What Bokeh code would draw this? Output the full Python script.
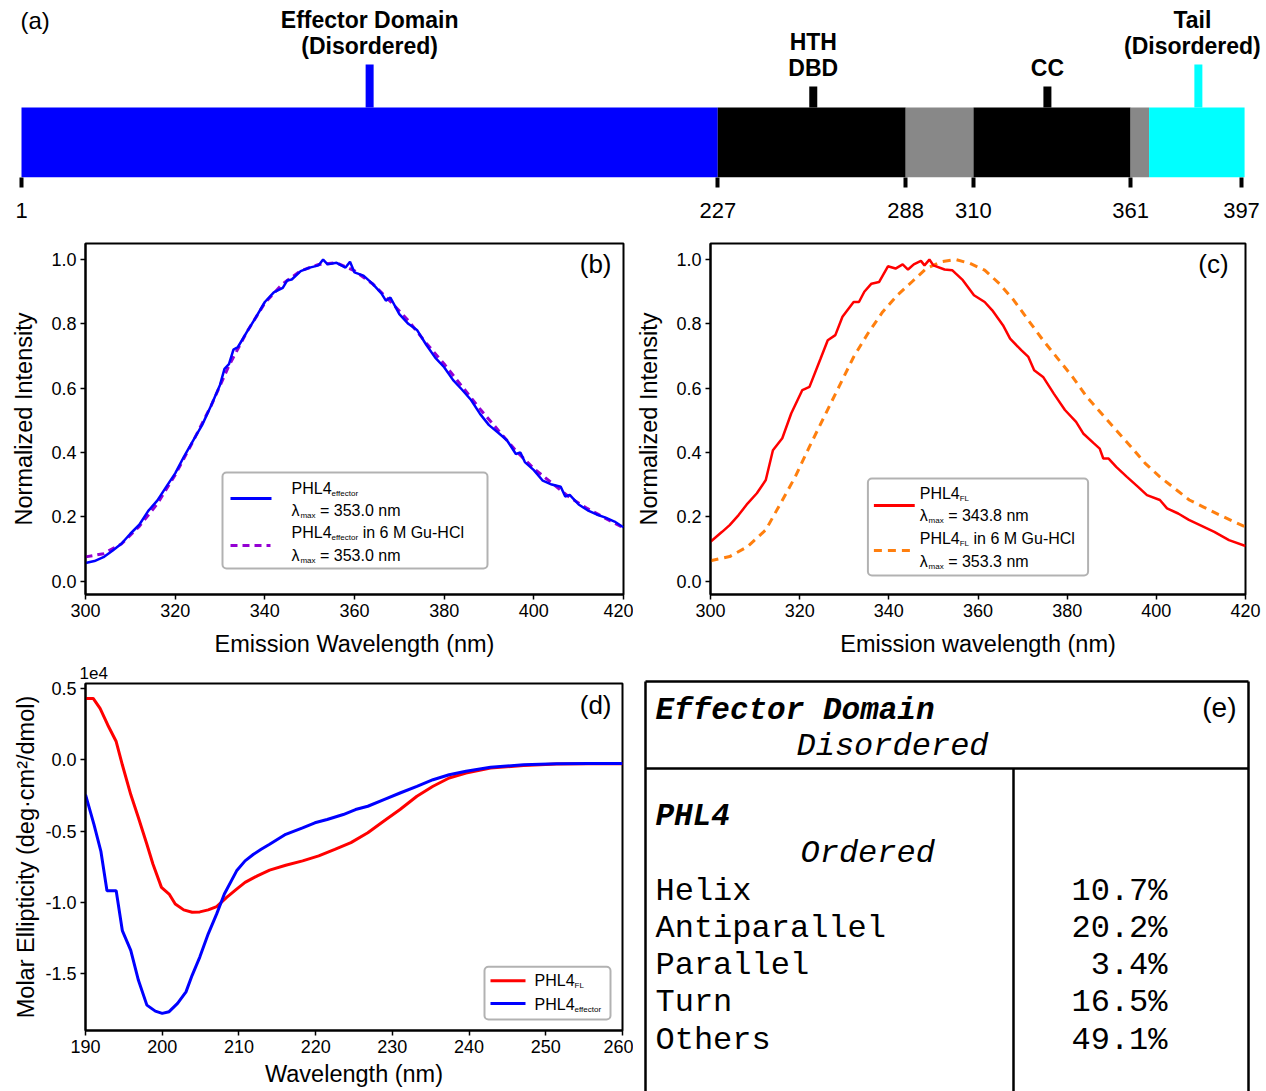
from bokeh.plotting import figure
from bokeh.layouts import column, row
from bokeh.models import (Range1d, FixedTicker, PrintfTickFormatter,
                          CustomJSTickFormatter, BoxAnnotation)
from bokeh.core.properties import value
from bokeh.embed import file_html
from bokeh.resources import INLINE

SANS = "Liberation Sans"
MONO = "Liberation Mono"

# ---------------- data ----------------
# (a) domain map of PHL4 (residues)
seg_start = [1, 227, 288, 310, 361, 367]
seg_end = [227, 288, 310, 361, 367, 398]
seg_color = ["#0000FF", "#000000", "#888888", "#000000", "#888888", "#00FFFF"]
map_ticks = [1, 227, 288, 310, 361, 397]
stub_pos = [114, 258, 334, 383]
stub_rise = [0.614, 0.3, 0.3, 0.614]
stub_color = ["#0000FF", "#000000", "#000000", "#00FFFF"]
domain_lines = [["Effector Domain", "(Disordered)"], ["HTH", "DBD"], ["CC"],
                ["Tail", "(Disordered)"]]

# (b) intrinsic fluorescence, effector domain
b_wl_eff = [300, 302, 304, 306, 308, 310, 312, 314, 316, 318,
            320, 322, 324, 326, 328, 330, 331, 332, 333, 334,
            336, 338, 340, 342, 344, 345, 346, 348, 350, 352,
            353, 354, 356, 358, 359, 360, 362, 364, 366, 367,
            368, 370, 372, 374, 376, 378, 380, 382, 384, 386,
            388, 390, 392, 394, 396, 397, 398, 400, 402, 404,
            406, 407, 408, 410, 412, 414, 416, 418, 420]
b_int_eff = [0.056, 0.062, 0.074, 0.094, 0.116, 0.147, 0.175, 0.218, 0.250, 0.293,
             0.335, 0.388, 0.437, 0.485, 0.545, 0.610, 0.660, 0.675, 0.720, 0.728,
             0.775, 0.820, 0.868, 0.898, 0.912, 0.935, 0.938, 0.964, 0.975, 0.982,
             1.000, 0.985, 0.990, 0.975, 0.993, 0.960, 0.950, 0.925, 0.895, 0.872,
             0.882, 0.830, 0.800, 0.780, 0.735, 0.695, 0.665, 0.625, 0.595, 0.563,
             0.520, 0.485, 0.462, 0.438, 0.395, 0.400, 0.370, 0.345, 0.312, 0.300,
             0.293, 0.263, 0.268, 0.238, 0.220, 0.207, 0.197, 0.185, 0.167]
b_wl_gu = [300, 304, 308, 312, 316, 320, 324, 328, 332, 336, 340, 344, 348, 352, 356,
           360, 364, 368, 372, 376, 380, 384, 388, 392, 396, 400, 404, 408, 412, 416, 420]
b_int_gu = [0.075, 0.085, 0.115, 0.170, 0.240, 0.330, 0.435, 0.545, 0.670, 0.775,
            0.865, 0.925, 0.965, 0.985, 0.990, 0.965, 0.925, 0.870, 0.810, 0.740,
            0.675, 0.605, 0.535, 0.470, 0.405, 0.350, 0.305, 0.260, 0.225, 0.195, 0.165]

# (c) intrinsic fluorescence, full length
c_wl_fl = [300, 302.6, 304.3, 306.3, 308.3, 310.4, 312.4, 314, 316.1, 318.1,
           320.6, 322.2, 324.7, 326.3, 328, 329.6, 332.1, 333.3, 334.5, 336.1,
           337.8, 339.8, 341.5, 343.1, 344.3, 345.6, 347.2, 348, 349.1, 350,
           352.5, 354.2, 356.6, 359.1, 361.5, 363.2, 365.6, 367.2, 369.7, 371.3,
           372.6, 374.6, 377, 379.5, 382, 383.6, 386, 387.3, 388.1, 389.3,
           391, 393.4, 395.9, 397.9, 400.8, 402.4, 404.9, 407.3, 409.8, 413,
           416.3, 420]
c_int_fl = [0.122, 0.153, 0.174, 0.205, 0.241, 0.273, 0.314, 0.407, 0.444, 0.521,
            0.594, 0.604, 0.692, 0.749, 0.765, 0.822, 0.868, 0.868, 0.900, 0.925,
            0.930, 0.979, 0.972, 0.985, 0.969, 0.985, 0.996, 0.982, 1.000, 0.982,
            0.969, 0.967, 0.936, 0.889, 0.868, 0.842, 0.796, 0.754, 0.718, 0.697,
            0.656, 0.635, 0.583, 0.532, 0.495, 0.459, 0.428, 0.412, 0.381, 0.381,
            0.355, 0.324, 0.293, 0.267, 0.252, 0.226, 0.210, 0.190, 0.174, 0.153,
            0.127, 0.109]
c_wl_gu = [300, 304.3, 308.3, 312.4, 315.7, 319, 322.2, 325.5, 328.8, 332.1,
           335.3, 338.6, 341.9, 345.2, 348.4, 351.7, 355, 358.2, 361.5, 364.8,
           368, 371.3, 374.6, 377.9, 381.2, 384.4, 387.7, 391, 394.3, 397.5,
           400.8, 404.1, 407.4, 410.6, 413.9, 417.2, 420]
c_int_gu = [0.063, 0.076, 0.107, 0.159, 0.241, 0.324, 0.418, 0.511, 0.604, 0.697,
            0.770, 0.837, 0.889, 0.931, 0.972, 0.993, 1.000, 0.988, 0.967, 0.925,
            0.874, 0.811, 0.749, 0.692, 0.635, 0.573, 0.521, 0.469, 0.418, 0.366,
            0.324, 0.288, 0.252, 0.230, 0.207, 0.186, 0.168]

# (d) far-UV CD (deg cm^2 / dmol)
d_wl_fl = [190, 191, 191.9, 192.9, 194, 194.8, 195.9, 196.9, 198, 198.8,
           199.9, 200.9, 201.7, 202.8, 203.9, 204.9, 206, 207.1, 208.4, 209.7,
           210.8, 212.4, 214, 216.1, 218.3, 220.4, 222.5, 224.6, 226.8, 228.9,
           231, 233.2, 235.3, 237.4, 239.6, 242.8, 247.1, 251.4, 255.6, 260]
d_cd_fl = [4300, 4300, 3600, 2440, 1280, -350, -2440, -4070, -5930, -7330,
           -8950, -9420, -10120, -10530, -10700, -10670, -10530, -10300, -9650, -9070,
           -8600, -8140, -7740, -7400, -7090, -6740, -6280, -5810, -5120, -4300,
           -3490, -2560, -1860, -1280, -930, -580, -400, -300, -280, -280]
d_wl_eff = [190, 191.1, 192, 192.8, 194, 194.8, 195.9, 196.9, 198, 199.1,
            200, 200.9, 202, 203.1, 203.9, 204.9, 206, 207.1, 208.1, 209.7,
            210.8, 211.9, 212.9, 214, 216.1, 218.3, 219.9, 221.5, 223.6, 225.2,
            226.8, 228.9, 231, 233.2, 235.3, 237.4, 239.6, 242.8, 247.1, 251.4,
            255.6, 260]
d_cd_eff = [-2440, -4530, -6400, -9190, -9190, -11980, -13370, -15470, -17210, -17630,
            -17790, -17670, -17090, -16280, -15120, -13840, -12210, -10810, -9420, -7790,
            -7090, -6630, -6280, -5930, -5230, -4770, -4420, -4190, -3840, -3490,
            -3260, -2790, -2330, -1860, -1400, -1050, -810, -530, -350, -280,
            -260, -260]

# (e) secondary structure table
e_title = "Effector Domain"
e_title_state = "Disordered"
e_protein = "PHL4"
e_protein_state = "Ordered"
ss_labels = ["Helix", "Antiparallel", "Parallel", "Turn", "Others"]
ss_values = [10.7, 20.2, 3.4, 16.5, 49.1]

# ---------------- helpers ----------------
AW = {' ': 278, '(': 333, ')': 333, '-': 333, '.': 278, '=': 584, 'A': 667, 'C': 722,
      'F': 611, 'G': 778, 'H': 722, 'L': 556, 'M': 833, 'P': 667, 'a': 556, 'c': 500,
      'e': 556, 'f': 278, 'i': 222, 'l': 222, 'm': 833, 'n': 556, 'o': 556, 'r': 333,
      't': 278, 'u': 556, 'x': 500, 'λ': 556}


def tw(s, size):
    return sum(AW.get(ch, 556) for ch in s) * size / 1000.0


def rich(p, x, y, parts):
    off = 0.0
    for txt, size, dy in parts:
        stripped = txt.lstrip(" ")
        off += tw(txt[:len(txt) - len(stripped)], size)
        p.text(x=[x], y=[y], text=[stripped], x_offset=off, y_offset=dy,
               text_font=value(SANS), text_font_size=f"{size}px",
               text_baseline="middle", text_align="left", text_color="black")
        off += tw(stripped, size)


def conv(fx0, fw, fy0, fh, xr, yr):
    def fx(px):
        return xr[0] + (px - fx0) * (xr[1] - xr[0]) / fw

    def fy(py):
        return yr[1] - (py - fy0) * (yr[1] - yr[0]) / fh
    return fx, fy


def base_fig(w, h, xr, yr, ml, mr, mt, mb):
    p = figure(width=w, height=h, x_range=Range1d(*xr), y_range=Range1d(*yr),
               output_backend="svg", toolbar_location=None,
               min_border_left=ml, min_border_right=mr,
               min_border_top=mt, min_border_bottom=mb)
    p.frame_align = False
    p.grid.visible = False
    p.background_fill_color = "white"
    p.border_fill_color = "white"
    return p


def style_axes(p, xticks, yticks, yfmt):
    p.outline_line_color = "black"
    p.outline_line_width = 2
    p.outline_line_alpha = 1
    for ax in (p.xaxis[0], p.yaxis[0]):
        ax.axis_line_width = 2
        ax.axis_line_color = "black"
        ax.major_tick_line_width = 1.5
        ax.major_tick_line_color = "black"
        ax.major_tick_out = 5
        ax.major_tick_in = 0
        ax.minor_tick_line_color = None
        ax.major_label_text_font = SANS
        ax.major_label_text_font_size = "18px"
        ax.major_label_text_color = "black"
        ax.axis_label_text_font = SANS
        ax.axis_label_text_font_size = "23.5px"
        ax.axis_label_text_font_style = "normal"
        ax.axis_label_text_color = "black"
    p.xaxis[0].ticker = FixedTicker(ticks=xticks)
    p.yaxis[0].ticker = FixedTicker(ticks=yticks)
    p.xaxis[0].formatter = PrintfTickFormatter(format="%d")
    p.yaxis[0].formatter = yfmt
    p.xaxis[0].major_label_standoff = 4
    p.xaxis[0].axis_label_standoff = 11
    p.yaxis[0].major_label_standoff = 4
    p.yaxis[0].axis_label_standoff = 11


def panel_label(p, x, y, txt, size=26):
    p.text(x=[x], y=[y], text=[txt], text_font=value(SANS), text_font_size=f"{size}px",
           text_align="right", text_baseline="middle", text_color="black")


def legend_box(p, l, r, t, b):
    p.add_layout(BoxAnnotation(left=l, right=r, top=t, bottom=b, fill_color="white",
                               fill_alpha=1, line_color="black", line_width=2,
                               border_radius=4, level="underlay"))


# ---------------- (a) domain map ----------------
PX_PER_RES = 1220 / 396.0
a_xr = (1 - 21 / PX_PER_RES, 1 + (1266 - 21) / PX_PER_RES)
a_yr = (0, 177 / 70.0)
pa = base_fig(1266, 230, a_xr, a_yr, 0, 0, 0, 53)
pa.outline_line_color = None
pa.yaxis.visible = False
pa.quad(left=seg_start, right=seg_end, bottom=0, top=1, fill_color=seg_color,
        line_color=None)
pa.segment(x0=stub_pos, y0=[1] * len(stub_pos), x1=stub_pos,
           y1=[1 + r for r in stub_rise], line_color=stub_color, line_width=8)
label_dx = [0, 0, 0, -6]
for xs, rise, lines, ddx in zip(stub_pos, stub_rise, domain_lines, label_dx):
    n = len(lines)
    for i, ln in enumerate(lines):
        pa.text(x=[xs], y=[1 + rise], text=[ln], x_offset=ddx,
                y_offset=-19 - 26 * (n - 1 - i),
                text_font=value(SANS), text_font_style="bold", text_font_size="23px",
                text_align="center", text_baseline="middle", text_color="black")
xa = pa.xaxis[0]
xa.ticker = FixedTicker(ticks=map_ticks)
xa.axis_line_color = None
xa.major_tick_line_width = 4
xa.major_tick_line_color = "black"
xa.major_tick_out = 10
xa.major_tick_in = 0
xa.minor_tick_line_color = None
xa.major_label_text_font = SANS
xa.major_label_text_font_size = "22px"
xa.major_label_text_color = "black"
xa.major_label_standoff = 15
pa.text(x=[a_xr[0]], y=[a_yr[1]], text=["(a)"], x_offset=20, y_offset=20,
        text_font=value(SANS), text_font_size="24px", text_align="left",
        text_baseline="middle", text_color="black")

# ---------------- (b) ----------------
FL_YR = (-0.042, 1.05)
pb = base_fig(633, 430, (300, 420), FL_YR, 85, 10, 13, 66)
style_axes(pb, [300, 320, 340, 360, 380, 400, 420], [0, 0.2, 0.4, 0.6, 0.8, 1.0],
           PrintfTickFormatter(format="%.1f"))
pb.xaxis[0].axis_label = "Emission Wavelength (nm)"
pb.yaxis[0].axis_label = "Normalized Intensity"
pb.line(b_wl_gu, b_int_gu, line_color="#9400D3", line_width=3, line_dash="7 5")
pb.line(b_wl_eff, b_int_eff, line_color="#0000FF", line_width=2.5)
bx, by = conv(85, 538, 243, 351, (300, 420), FL_YR)
panel_label(pb, bx(611), by(263), "(b)")
legend_box(pb, bx(222), bx(487), by(472), by(568))
pb.line([bx(230), bx(271)], [by(498), by(498)], line_color="#0000FF", line_width=3)
pb.line([bx(230), bx(270)], [by(545), by(545)], line_color="#9400D3", line_width=3,
        line_dash="7 5")
rich(pb, bx(291), by(488), [("PHL4", 16, 0), ("effector", 8, 5)])
rich(pb, bx(291), by(510), [("λ", 16, 0), ("max", 8, 5), (" = 353.0 nm", 16, 0)])
rich(pb, bx(291), by(532), [("PHL4", 16, 0), ("effector", 8, 5), (" in 6 M Gu-HCl", 16, 0)])
rich(pb, bx(291), by(555), [("λ", 16, 0), ("max", 8, 5), (" = 353.0 nm", 16, 0)])

# ---------------- (c) ----------------
pc = base_fig(633, 430, (300, 420), FL_YR, 75, 21, 13, 66)
style_axes(pc, [300, 320, 340, 360, 380, 400, 420], [0, 0.2, 0.4, 0.6, 0.8, 1.0],
           PrintfTickFormatter(format="%.1f"))
pc.xaxis[0].axis_label = "Emission wavelength (nm)"
pc.yaxis[0].axis_label = "Normalized Intensity"
pc.line(c_wl_gu, c_int_gu, line_color="#FF7F0E", line_width=3, line_dash="8 6")
pc.line(c_wl_fl, c_int_fl, line_color="#FF0000", line_width=2.5)
cx, cy = conv(708, 537, 243, 351, (300, 420), FL_YR)
panel_label(pc, cx(1228), cy(263), "(c)")
legend_box(pc, cx(866), cx(1087), cy(478), cy(575))
pc.line([cx(872), cx(913)], [cy(505), cy(505)], line_color="#FF0000", line_width=3)
pc.line([cx(872), cx(910)], [cy(550), cy(550)], line_color="#FF7F0E", line_width=3,
        line_dash="8 6")
rich(pc, cx(918), cy(493), [("PHL4", 16, 0), ("FL", 8, 5)])
rich(pc, cx(918), cy(515), [("λ", 16, 0), ("max", 8, 5), (" = 343.8 nm", 16, 0)])
rich(pc, cx(918), cy(538), [("PHL4", 16, 0), ("FL", 8, 5), (" in 6 M Gu-HCl", 16, 0)])
rich(pc, cx(918), cy(561), [("λ", 16, 0), ("max", 8, 5), (" = 353.3 nm", 16, 0)])

# ---------------- (d) ----------------
CD_YR = (-18990, 5350)
pd_ = base_fig(633, 431, (190, 260), CD_YR, 85, 11, 22, 61)
style_axes(pd_, [190, 200, 210, 220, 230, 240, 250, 260],
           [-15000, -10000, -5000, 0, 5000],
           CustomJSTickFormatter(code="return (tick / 1e4).toFixed(1);"))
pd_.xaxis[0].axis_label = "Wavelength (nm)"
pd_.yaxis[0].axis_label = "Molar Ellipticity (deg·cm²/dmol)"
pd_.xaxis[0].axis_label_standoff = 5
pd_.yaxis[0].axis_label_standoff = 3
pd_.title.text = "1e4"
pd_.title.align = "left"
pd_.title.text_font = SANS
pd_.title.text_font_size = "17px"
pd_.title.text_font_style = "normal"
pd_.title.text_color = "black"
pd_.title.offset = -6
pd_.title.standoff = 9
pd_.line(d_wl_fl, d_cd_fl, line_color="#FF0000", line_width=3)
pd_.line(d_wl_eff, d_cd_eff, line_color="#0000FF", line_width=3)
dx, dy = conv(85, 537, 682, 348, (190, 260), CD_YR)
panel_label(pd_, dx(611), dy(704), "(d)")
legend_box(pd_, dx(484), dx(610), dy(966), dy(1019))
pd_.line([dx(490), dx(525)], [dy(980), dy(980)], line_color="#FF0000", line_width=3)
pd_.line([dx(490), dx(525)], [dy(1003), dy(1003)], line_color="#0000FF", line_width=3)
rich(pd_, dx(534), dy(980), [("PHL4", 16, 0), ("FL", 8, 5)])
rich(pd_, dx(534), dy(1004), [("PHL4", 16, 0), ("effector", 8, 5)])

# ---------------- (e) table ----------------
pe = base_fig(633, 431, (633, 1266), (1091, 660), 0, 0, 0, 0)
pe.xaxis.visible = False
pe.yaxis.visible = False
pe.outline_line_color = None
pe.segment(x0=[645, 645, 1248, 645, 1013], y0=[681, 681, 681, 768, 768],
           x1=[1248, 645, 1248, 1248, 1013], y1=[681, 1095, 1095, 768, 1095],
           line_color="black", line_width=2.5)
pe.text(x=[655], y=[710], text=[e_title], text_font=value(MONO),
        text_font_style="bold italic", text_font_size="31px",
        text_baseline="middle", text_color="black")
pe.text(x=[796], y=[746], text=[e_title_state], text_font=value(MONO),
        text_font_style="italic", text_font_size="32px",
        text_baseline="middle", text_color="black")
pe.text(x=[655], y=[816], text=[e_protein], text_font=value(MONO),
        text_font_style="bold italic", text_font_size="31px",
        text_baseline="middle", text_color="black")
pe.text(x=[800], y=[853], text=[e_protein_state], text_font=value(MONO),
        text_font_style="italic", text_font_size="32px",
        text_baseline="middle", text_color="black")
row_y = [890.5 + 37.3 * i for i in range(len(ss_labels))]
pe.text(x=[655] * len(ss_labels), y=row_y, text=ss_labels, text_font=value(MONO),
        text_font_size="32px", text_baseline="middle", text_color="black")
pe.text(x=[1167] * len(ss_values), y=row_y, text=[f"{v:.1f}%" for v in ss_values],
        text_font=value(MONO), text_font_size="32px", text_align="right",
        text_baseline="middle", text_color="black")
pe.text(x=[1236], y=[707], text=["(e)"], text_font=value(SANS), text_font_size="28px",
        text_align="right", text_baseline="middle", text_color="black")

layout = column(pa, row(pb, pc), row(pd_, pe))
open("out.html", "w").write(file_html(layout, INLINE))
